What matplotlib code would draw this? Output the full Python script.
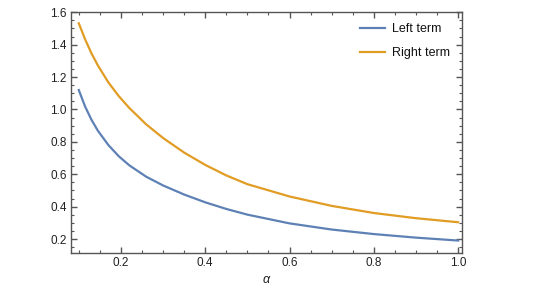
import matplotlib
matplotlib.use("Agg")
import matplotlib.pyplot as plt
from matplotlib.ticker import MultipleLocator, FormatStrFormatter

alpha = [0.1, 0.115, 0.13, 0.145, 0.17, 0.195, 0.22, 0.26, 0.3, 0.35,
         0.4, 0.45, 0.5, 0.6, 0.7, 0.8, 0.9, 1.0]
left_term = [1.12, 1.018, 0.937, 0.870, 0.781, 0.711, 0.655, 0.585, 0.531, 0.475,
             0.427, 0.386, 0.351, 0.297, 0.259, 0.231, 0.209, 0.191]
right_term = [1.532, 1.433, 1.347, 1.273, 1.168, 1.082, 1.009, 0.908, 0.824, 0.734,
              0.658, 0.593, 0.539, 0.463, 0.405, 0.361, 0.329, 0.304]
labels = ["Left term", "Right term"]

plt.rcParams['font.family'] = ['Liberation Sans', 'DejaVu Sans']

fig = plt.figure(figsize=(5.37, 2.89), dpi=100)
ax = fig.add_axes([71/537, 1-252.7/289, (461.5-71)/537, (252.7-11.7)/289])

blue = '#5E81B5'
orange = '#E19C24'
ax.plot(alpha, left_term, color=blue, lw=1.6, label=labels[0],
        solid_joinstyle='round')
ax.plot(alpha, right_term, color=orange, lw=1.6, label=labels[1],
        solid_joinstyle='round')

ax.set_xlim(0.0815, 1.008)
ax.set_ylim(0.116, 1.6037)

ax.xaxis.set_major_locator(MultipleLocator(0.2))
ax.xaxis.set_minor_locator(MultipleLocator(0.05))
ax.yaxis.set_major_locator(MultipleLocator(0.2))
ax.yaxis.set_minor_locator(MultipleLocator(0.05))
ax.xaxis.set_major_formatter(FormatStrFormatter('%.1f'))
ax.yaxis.set_major_formatter(FormatStrFormatter('%.1f'))

frame_color = '#555555'
for s in ax.spines.values():
    s.set_color(frame_color)
    s.set_linewidth(1.0)

ax.tick_params(which='both', direction='in', top=True, right=True,
               color=frame_color, labelcolor='#222222', labelsize=8.5)
ax.tick_params(which='major', length=4, width=1.0, pad=3)
ax.tick_params(which='minor', length=2, width=0.8)

ax.set_xlabel('α', fontstyle='italic', fontsize=9, color='#222222', labelpad=4)

leg = ax.legend(loc='upper right', frameon=False, fontsize=9, handlelength=2.0,
                handletextpad=0.6, labelspacing=1.0, bbox_to_anchor=(1.0, 1.0))
for t in leg.get_texts():
    t.set_color('#111111')

fig.savefig('out.png', dpi=100)
